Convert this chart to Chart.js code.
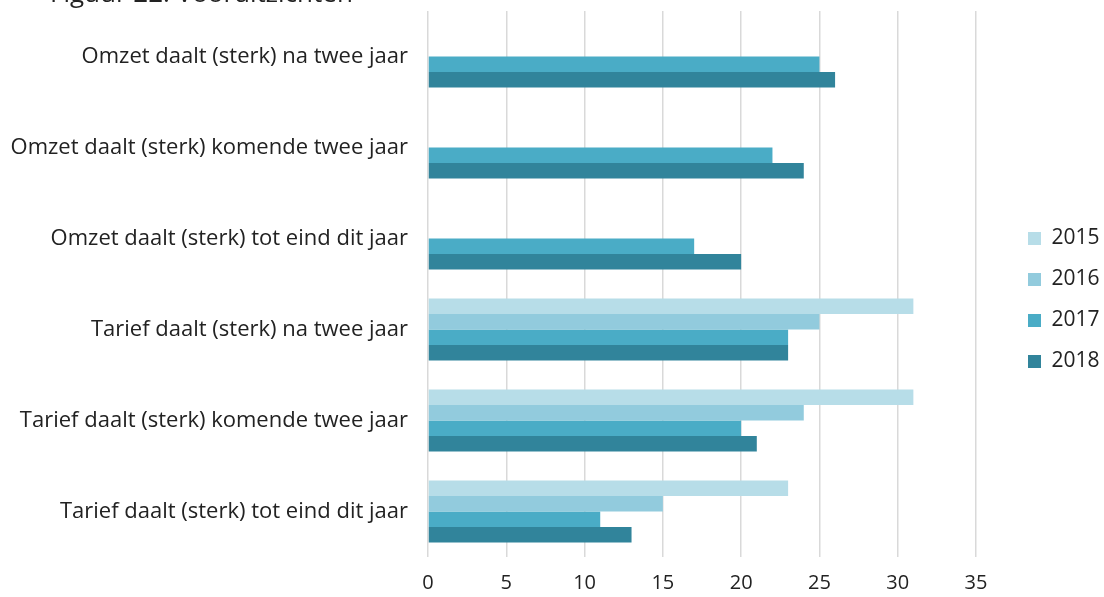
<!DOCTYPE html>
<html lang="nl">
<head>
<meta charset="UTF-8">
<title>Figuur 22: Vooruitzichten</title>
<script src="https://cdn.jsdelivr.net/npm/chart.js"></script>
<style>
  * { margin: 0; padding: 0; box-sizing: border-box; }
  html, body { width: 1104px; height: 597px; background: #fff; overflow: hidden; }
  .wrap { position: relative; width: 1104px; height: 597px; }
</style>
</head>
<body>
<div class="wrap"><canvas id="chart"></canvas></div>
<script>
  // Data
  const categories = [
    'Omzet daalt (sterk) na twee jaar',
    'Omzet daalt (sterk) komende twee jaar',
    'Omzet daalt (sterk) tot eind dit jaar',
    'Tarief daalt (sterk) na twee jaar',
    'Tarief daalt (sterk) komende twee jaar',
    'Tarief daalt (sterk) tot eind dit jaar'
  ];
  const years = ['2015', '2016', '2017', '2018'];
  const values2015 = [null, null, null, 31, 31, 23];
  const values2016 = [null, null, null, 25, 24, 15];
  const values2017 = [25, 22, 17, 23, 20, 11];
  const values2018 = [26, 24, 20, 23, 21, 13];
  const xTicks = [0, 5, 10, 15, 20, 25, 30, 35];
  const colors = ['#b7dde8', '#92cbdd', '#4aacc6', '#31849b'];
  const titleText = 'Figuur 22: Vooruitzichten';

  const FONT = '"Open Sans", Lato, sans-serif';
  const series = [values2015, values2016, values2017, values2018];

  // Title is cut off at the top edge in the original
  const clippedTitle = {
    id: 'clippedTitle',
    afterDraw(chart) {
      const ctx = chart.ctx;
      ctx.save();
      ctx.font = '26px ' + FONT;
      ctx.fillStyle = '#222';
      ctx.textBaseline = 'alphabetic';
      ctx.fillText(titleText, 50, 2);
      ctx.restore();
    }
  };

  // legend box fills the space right of the plot; items sit further right
  const legendPlace = {
    id: 'legendPlace',
    beforeInit(chart) {
      const legend = chart.legend;
      if (!legend) return;
      const fit = legend.fit;
      legend.fit = function () {
        fit.call(this);
        this.width = 128;
      };
    },
    afterLayout(chart) {
      const legend = chart.legend;
      if (!legend) return;
      legend.left += 32;
      legend.right += 32;
      legend.top -= 4;
      legend.bottom -= 4;
    }
  };

  new Chart(document.getElementById('chart'), {
    type: 'bar',
    data: {
      labels: categories,
      datasets: years.map((y, i) => ({
        label: y,
        data: series[i],
        backgroundColor: colors[i],
        borderWidth: 0,
        barPercentage: 1,
        categoryPercentage: 0.68
      }))
    },
    options: {
      indexAxis: 'y',
      responsive: true,
      maintainAspectRatio: false,
      animation: false,
      layout: { padding: { top: 11, left: 8, right: 0, bottom: 0 } },
      scales: {
        x: {
          min: 0,
          max: 35,
          afterBuildTicks(axis) {
            axis.ticks = xTicks.map(v => ({ value: v }));
          },
          afterFit(axis) {
            axis.height = 40;
            axis.paddingLeft = 0;
            axis.paddingRight = 0;
          },
          grid: { color: '#d9d9d9', lineWidth: 1.5, drawTicks: false },
          border: { display: false },
          ticks: {
            color: '#222',
            padding: 14,
            font: { family: FONT, size: 20 }
          }
        },
        y: {
          afterFit(axis) {
            axis.width = 420;
            axis.paddingTop = 0;
            axis.paddingBottom = 0;
          },
          grid: { display: false, drawTicks: false },
          border: { display: false },
          ticks: {
            color: '#222',
            padding: 20,
            font: { family: FONT, size: 22 }
          }
        }
      },
      plugins: {
        legend: {
          position: 'right',
          labels: {
            boxWidth: 13,
            boxHeight: 13,
            padding: 20,
            color: '#222',
            font: { family: FONT, size: 21 }
          }
        },
        tooltip: { enabled: false }
      }
    },
    plugins: [clippedTitle, legendPlace]
  });
</script>
</body>
</html>
